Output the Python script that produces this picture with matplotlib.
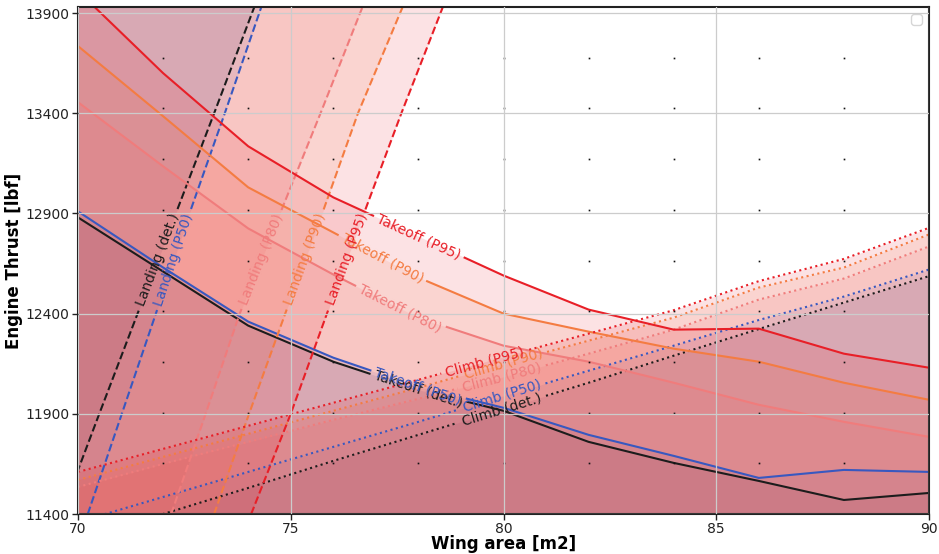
import numpy as np
import matplotlib
matplotlib.use("Agg")
import matplotlib.pyplot as plt
from matplotlib.font_manager import FontProperties

# ---------------- data ----------------
wing_area = [70, 72, 74, 76, 78, 80, 82, 84, 86, 88, 90]

takeoff_det = [12880, 12610, 12340, 12160, 12020, 11915, 11760, 11655, 11565, 11470, 11505]
takeoff_p50 = [12910, 12630, 12360, 12180, 12035, 11930, 11795, 11690, 11580, 11620, 11610]
takeoff_p80 = [13455, 13135, 12825, 12595, 12380, 12240, 12160, 12055, 11945, 11860, 11785]
takeoff_p90 = [13735, 13385, 13030, 12805, 12580, 12400, 12310, 12225, 12160, 12055, 11970]
takeoff_p95 = [14010, 13600, 13235, 12980, 12785, 12590, 12420, 12320, 12325, 12200, 12130]

climb_det = [11270, 11400, 11530, 11665, 11795, 11925, 12055, 12190, 12323, 12455, 12587]
climb_p50 = [11360, 11485, 11610, 11735, 11860, 11990, 12115, 12240, 12368, 12485, 12620]
climb_p80 = [11535, 11650, 11760, 11870, 11975, 12085, 12200, 12320, 12470, 12575, 12735]
climb_p90 = [11570, 11685, 11800, 11915, 12030, 12150, 12265, 12380, 12530, 12630, 12795]
climb_p95 = [11610, 11725, 11840, 11955, 12070, 12185, 12300, 12417, 12562, 12673, 12828]

landing_thrust = [11400, 11900, 12400, 12900, 13400, 13900, 14000]
landing_det = [69.61, 70.50, 71.40, 72.30, 73.20, 74.09, 74.27]
landing_p50 = [70.23, 71.03, 71.83, 72.62, 73.45, 74.26, 74.42]
landing_p80 = [72.19, 73.00, 73.80, 74.75, 75.70, 76.63, 76.82]
landing_p90 = [73.20, 74.02, 74.87, 75.74, 76.58, 77.57, 77.77]
landing_p95 = [74.07, 75.00, 75.85, 76.72, 77.60, 78.52, 78.70]

scenarios = ["det.", "P50", "P80", "P90", "P95"]
line_colors = ["#1c1c1c", "#3858c0", "#f07c7c", "#f47c42", "#e81f27"]
fill_colors = ["#2a2a78", "#3a56cc", "#f07c7c", "#f47c48", "#e81f2c"]

takeoff_label_x = [77.99, 77.99, 77.57, 77.15, 78.01]
climb_label_x = [79.96, 79.96, 79.96, 79.99, 79.57]
landing_label_T = [12670, 12670, 12670, 12670, 12670]

x_ticks = [70, 75, 80, 85, 90]
y_ticks = [11400, 11900, 12400, 12900, 13400, 13900]
x_range = (70, 90)
y_range = (11400, 13930)

FILL_ALPHA = 0.125

# ---------------- figure ----------------
W, H = 939, 554
fig = plt.figure(figsize=(W / 100, H / 100), dpi=100)
ax = fig.add_axes([78 / W, 1 - 514 / H, (929 - 78) / W, (514 - 7) / H])
ax.set_xlim(*x_range)
ax.set_ylim(*y_range)
ax.set_xticks(x_ticks)
ax.set_yticks(y_ticks)
ax.grid(True, color="0.8", lw=0.9, zorder=1.5)
ax.set_axisbelow(False)

takeoffs = [takeoff_det, takeoff_p50, takeoff_p80, takeoff_p90, takeoff_p95]
climbs = [climb_det, climb_p50, climb_p80, climb_p90, climb_p95]
landings = [landing_det, landing_p50, landing_p80, landing_p90, landing_p95]

floor_y = y_range[0] - 500
floor_x = x_range[0] - 5
for c, to, cl, la in zip(fill_colors, takeoffs, climbs, landings):
    ax.fill_between(wing_area, floor_y, to, color=c, alpha=FILL_ALPHA, lw=0, zorder=1)
    ax.fill_between(wing_area, floor_y, cl, color=c, alpha=FILL_ALPHA, lw=0, zorder=1)
    ax.fill_betweenx(landing_thrust, floor_x, la, color=c, alpha=FILL_ALPHA, lw=0, zorder=1)

ax.set_xlim(*x_range)
ax.set_ylim(*y_range)

renderer = fig.canvas.get_renderer()
fp = FontProperties(size=10)


def labeled_line(xs, ys, param, label_at, color, ls, text):
    xs = np.asarray(xs, float)
    ys = np.asarray(ys, float)
    P = ax.transData.transform(np.column_stack([xs, ys]))
    seg = np.diff(P, axis=0)
    L = np.hypot(seg[:, 0], seg[:, 1])
    cum = np.concatenate([[0.0], np.cumsum(L)])
    par = np.asarray(param, float)
    i = int(np.clip(np.searchsorted(par, label_at) - 1, 0, len(par) - 2))
    t = (label_at - par[i]) / (par[i + 1] - par[i])
    s_c = cum[i] + t * L[i]
    center = P[i] + t * seg[i]
    ang = np.degrees(np.arctan2(seg[i, 1], seg[i, 0]))
    if ang > 90:
        ang -= 180
    if ang < -90:
        ang += 180
    w, h, d = renderer.get_text_width_height_descent(text, fp, ismath=False)
    s0 = s_c - w / 2 - 5
    s1 = s_c + w / 2 + 5

    def pt(s):
        k = int(np.clip(np.searchsorted(cum, s) - 1, 0, len(L) - 1))
        tt = (s - cum[k]) / L[k]
        return P[k] + tt * seg[k]

    left = [P[k] for k in range(len(P)) if cum[k] < s0] + [pt(s0)]
    right = [pt(s1)] + [P[k] for k in range(len(P)) if cum[k] > s1]
    pts = np.vstack(left + [np.array([np.nan, np.nan])] + right)
    data = ax.transData.inverted().transform(pts)
    ax.plot(data[:, 0], data[:, 1], color=color, ls=ls, lw=1.5, zorder=2)
    cd = ax.transData.inverted().transform(center)
    ax.text(cd[0], cd[1], text, color=color, fontsize=10, rotation=ang,
            rotation_mode="anchor", ha="center", va="center", zorder=3)


for k, (name, c) in enumerate(zip(scenarios, line_colors)):
    labeled_line(wing_area, takeoffs[k], wing_area, takeoff_label_x[k], c, "-",
                 f"Takeoff ({name})")
    labeled_line(wing_area, climbs[k], wing_area, climb_label_x[k], c, ":",
                 f"Climb ({name})")
    labeled_line(landings[k], landing_thrust, landing_thrust, landing_label_T[k], c, "--",
                 f"Landing ({name})")

# grid-node dots
xg = np.linspace(x_range[0], x_range[1], 11)[1:-1]
yg = np.linspace(y_range[0], y_range[1], 11)[1:-1]
XG, YG = np.meshgrid(xg, yg)
ax.plot(XG.ravel(), YG.ravel(), ls="none", marker="s", ms=1.2, mew=0,
        color="#111111", zorder=2.5)

ax.set_xlim(*x_range)
ax.set_ylim(*y_range)

for sp in ax.spines.values():
    sp.set_color("#222222")
    sp.set_linewidth(1.5)
ax.tick_params(labelsize=10, colors="#222222", length=4, width=1, pad=2)
ax.set_xlabel("Wing area [m2]", fontsize=12, fontweight="bold", labelpad=-1)
ax.set_ylabel("Engine Thrust [lbf]", fontsize=12, fontweight="bold", labelpad=2)
ax.legend(handles=[], loc="upper right")

fig.savefig("out.png", dpi=100)
